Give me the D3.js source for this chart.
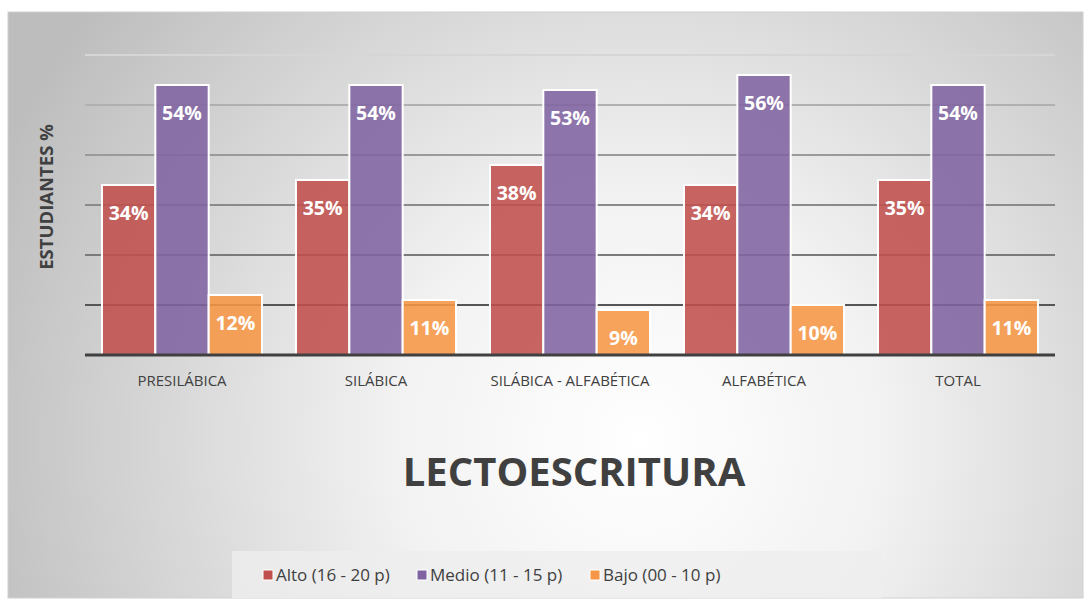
<!DOCTYPE html>
<html><head><meta charset="utf-8">
<script src="https://cdn.jsdelivr.net/npm/d3@7"></script>
<style>html,body{margin:0;padding:0;background:#fff;}svg{display:block;}</style>
</head><body>
<svg id="c" width="1091" height="602"></svg>
<script>
const categories = ["PRESILÁBICA", "SILÁBICA", "SILÁBICA - ALFABÉTICA", "ALFABÉTICA", "TOTAL"];
const seriesNames = ["Alto (16 - 20 p)", "Medio (11 - 15 p)", "Bajo (00 - 10 p)"];
const alto  = [34, 35, 38, 34, 35];
const medio = [54, 54, 53, 56, 54];
const bajo  = [12, 11, 9, 10, 11];
const yTicks = [0, 10, 20, 30, 40, 50, 60];
const colors = ["#C0504D", "#8064A2", "#F79646"];
const seriesValues = [alto, medio, bajo];

const svg = d3.select("#c");
const defs = svg.append("defs");
const rg = defs.append("radialGradient").attr("id","bg")
  .attr("gradientUnits","userSpaceOnUse").attr("cx",640).attr("cy",440).attr("r",700);
rg.append("stop").attr("offset","0").attr("stop-color","#ffffff");
rg.append("stop").attr("offset","0.35").attr("stop-color","#f2f2f2");
rg.append("stop").attr("offset","1").attr("stop-color","#bdbdbd");

svg.append("rect").attr("x",8).attr("y",12).attr("width",1075).attr("height",586)
  .attr("fill","url(#bg)").attr("stroke","#d0d0d0").attr("stroke-width",1);

const L = 85, R = 1055, T = 55, B = 355;
const x0 = d3.scaleBand().domain(categories).range([L,R]).paddingInner(0.175).paddingOuter(0.0875);
const x1 = d3.scaleBand().domain(d3.range(seriesNames.length)).range([0,x0.bandwidth()]);
const y = d3.scaleLinear().domain([0,60]).range([B,T]);

const gridColor = d3.scaleLinear().domain([60,50,40,30,20,10]).range(["#d6d6d6","#b0b0b0","#9a9a9a","#8a8a8a","#7a7a7a","#555555"]);
svg.append("g").selectAll("line").data(yTicks.filter(d=>d>0)).join("line")
  .attr("x1",L).attr("x2",R).attr("y1",d=>y(d)).attr("y2",d=>y(d))
  .attr("stroke",d=>gridColor(d)).attr("stroke-width",2);

const groups = svg.append("g").selectAll("g").data(categories).join("g")
  .attr("transform",c=>`translate(${x0(c)},0)`);
groups.each(function(c,ci){
  const g = d3.select(this);
  seriesValues.forEach((vals,si)=>{
    g.append("rect").attr("x",x1(si)).attr("y",y(vals[ci])).attr("width",x1.bandwidth())
      .attr("height",B-y(vals[ci])).attr("fill",colors[si]).attr("fill-opacity",0.88)
      .attr("stroke","#ffffff").attr("stroke-width",2);
    g.append("text").attr("x",x1(si)+x1.bandwidth()/2).attr("y",y(vals[ci])+35)
      .attr("text-anchor","middle").attr("fill","#ffffff").attr("font-family","Open Sans")
      .attr("font-weight","bold").attr("font-size",19.5).text(vals[ci]+"%");
  });
});

svg.append("line").attr("x1",L).attr("x2",R).attr("y1",y(0)).attr("y2",y(0))
  .attr("stroke","#404040").attr("stroke-width",3);

const xAxis = svg.append("g").attr("transform",`translate(0,${B})`)
  .call(d3.axisBottom(x0).tickSize(0).tickPadding(20));
xAxis.select(".domain").remove();
xAxis.selectAll("text").attr("font-family","Open Sans").attr("font-size",15).attr("fill","#404040");

svg.append("text").attr("transform","translate(53,197) rotate(-90)").attr("text-anchor","middle")
  .attr("font-family","Open Sans").attr("font-weight","bold").attr("font-size",18.5).attr("fill","#404040")
  .text("ESTUDIANTES %");

svg.append("text").attr("x",574).attr("y",486).attr("text-anchor","middle")
  .attr("font-family","Open Sans").attr("font-weight","bold").attr("font-size",40).attr("fill","#404040")
  .text("LECTOESCRITURA");

svg.append("rect").attr("x",232).attr("y",551).attr("width",650).attr("height",47).attr("fill","#ededed").attr("fill-opacity",0.8);
const legX = [263, 417, 590];
const leg = svg.append("g").selectAll("g").data(seriesNames).join("g")
  .attr("transform",(d,i)=>`translate(${legX[i]},575)`);
leg.append("rect").attr("x",0).attr("y",-5).attr("width",10).attr("height",10)
  .attr("fill",(d,i)=>colors[i]).attr("stroke","#fff").attr("stroke-width",1);
leg.append("text").attr("x",13).attr("y",6).attr("font-family","Open Sans").attr("font-size",17)
  .attr("fill","#404040").text(d=>d);
</script>
</body></html>
